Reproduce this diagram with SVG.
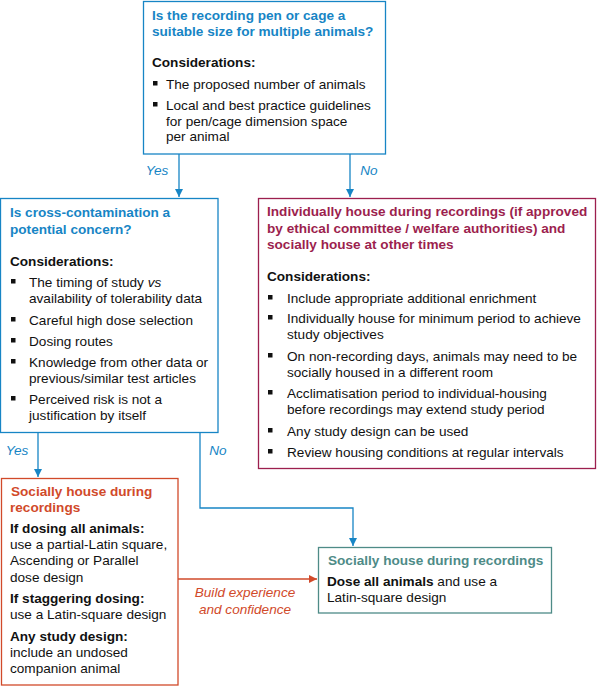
<svg xmlns="http://www.w3.org/2000/svg" width="598" height="686" viewBox="0 0 598 686">
<defs>
<style>
text{font-family:"Liberation Sans",Arial,sans-serif;font-size:13.6px;fill:#111}
.b{font-weight:bold}
.tb{font-weight:bold;fill:#1785c5}
.tc{font-weight:bold;fill:#9c1f4e}
.to{font-weight:bold;fill:#d14a2a}
.tt{font-weight:bold;fill:#4e8b87}
.lb{font-style:italic;fill:#1785c5}
.lo{font-style:italic;fill:#d14a2a}
.bx{fill:#fff;stroke-width:1.3}
.blue{stroke:#1785c5}
.cr{stroke:#9c1f4e}
.or{stroke:#d14a2a}
.te{stroke:#4e8b87}
.c{fill:none;stroke-width:1.3}
.sq{fill:#111}
</style>
<marker id="ab" viewBox="0 0 10 10" refX="10" refY="5" markerWidth="8" markerHeight="8" markerUnits="userSpaceOnUse" orient="auto"><path d="M0,0L10,5L0,10z" fill="#1785c5"/></marker>
<marker id="ao" viewBox="0 0 10 10" refX="10" refY="5" markerWidth="8" markerHeight="8" markerUnits="userSpaceOnUse" orient="auto"><path d="M0,0L10,5L0,10z" fill="#d14a2a"/></marker>
</defs>

<g id="connectors">
<path class="c blue" d="M179,154V197" marker-end="url(#ab)"/>
<path class="c blue" d="M350,154V197" marker-end="url(#ab)"/>
<path class="c blue" d="M38,433V477" marker-end="url(#ab)"/>
<path class="c blue" d="M200,433V508H353V546" marker-end="url(#ab)"/>
<path class="c or" d="M178,579H317" marker-end="url(#ao)"/>
<text class="lb" x="157" y="175" text-anchor="middle">Yes</text>
<text class="lb" x="369" y="175" text-anchor="middle">No</text>
<text class="lb" x="17" y="455" text-anchor="middle">Yes</text>
<text class="lb" x="218" y="455" text-anchor="middle">No</text>
<text class="lo" x="245" y="597" text-anchor="middle">Build experience</text>
<text class="lo" x="245" y="614" text-anchor="middle">and confidence</text>
</g>

<g id="q1">
<rect class="bx blue" x="143.5" y="1.5" width="242" height="152.5"/>
<text class="tb" x="152" y="20">Is the recording pen or cage a</text>
<text class="tb" x="152" y="36">suitable size for multiple animals?</text>
<text class="b" x="152" y="67">Considerations:</text>
<rect class="sq" x="153" y="81" width="4.5" height="4.5"/>
<text x="166" y="89">The proposed number of animals</text>
<rect class="sq" x="153" y="102" width="4.5" height="4.5"/>
<text x="166" y="110">Local and best practice guidelines</text>
<text x="166" y="126">for pen/cage dimension space</text>
<text x="166" y="141">per animal</text>
</g>

<g id="q2">
<rect class="bx blue" x="0.5" y="198.5" width="217.5" height="234"/>
<text class="tb" x="10" y="217">Is cross-contamination a</text>
<text class="tb" x="10" y="234">potential concern?</text>
<text class="b" x="10" y="266">Considerations:</text>
<rect class="sq" x="11" y="279" width="4.5" height="4.5"/>
<text x="29" y="287">The timing of study <tspan font-style="italic">vs</tspan></text>
<text x="29" y="303">availability of tolerability data</text>
<rect class="sq" x="11" y="317" width="4.5" height="4.5"/>
<text x="29" y="325">Careful high dose selection</text>
<rect class="sq" x="11" y="338" width="4.5" height="4.5"/>
<text x="29" y="346">Dosing routes</text>
<rect class="sq" x="11" y="359" width="4.5" height="4.5"/>
<text x="29" y="367">Knowledge from other data or</text>
<text x="29" y="383">previous/similar test articles</text>
<rect class="sq" x="11" y="396" width="4.5" height="4.5"/>
<text x="29" y="404">Perceived risk is not a</text>
<text x="29" y="420">justification by itself</text>
</g>

<g id="individual">
<rect class="bx cr" x="258.5" y="198.5" width="337" height="270"/>
<text class="tc" x="267" y="216">Individually house during recordings (if approved</text>
<text class="tc" x="267" y="233">by ethical committee / welfare authorities) and</text>
<text class="tc" x="267" y="249">socially house at other times</text>
<text class="b" x="267" y="281">Considerations:</text>
<rect class="sq" x="268" y="295" width="4.5" height="4.5"/>
<text x="287" y="303">Include appropriate additional enrichment</text>
<rect class="sq" x="268" y="315" width="4.5" height="4.5"/>
<text x="287" y="323">Individually house for minimum period to achieve</text>
<text x="287" y="339">study objectives</text>
<rect class="sq" x="268" y="353" width="4.5" height="4.5"/>
<text x="287" y="361">On non-recording days, animals may need to be</text>
<text x="287" y="377">socially housed in a different room</text>
<rect class="sq" x="268" y="390" width="4.5" height="4.5"/>
<text x="287" y="398">Acclimatisation period to individual-housing</text>
<text x="287" y="414">before recordings may extend study period</text>
<rect class="sq" x="268" y="428" width="4.5" height="4.5"/>
<text x="287" y="436">Any study design can be used</text>
<rect class="sq" x="268" y="449" width="4.5" height="4.5"/>
<text x="287" y="457">Review housing conditions at regular intervals</text>
</g>

<g id="social1">
<rect class="bx or" x="1.5" y="478.5" width="176.5" height="206.5"/>
<text class="to" x="11" y="496">Socially house during</text>
<text class="to" x="10" y="512">recordings</text>
<text class="b" x="10" y="533">If dosing all animals:</text>
<text x="10" y="549">use a partial-Latin square,</text>
<text x="10" y="565">Ascending or Parallel</text>
<text x="10" y="582">dose design</text>
<text class="b" x="10" y="603">If staggering dosing:</text>
<text x="10" y="619">use a Latin-square design</text>
<text class="b" x="10" y="641">Any study design:</text>
<text x="10" y="657">include an undosed</text>
<text x="10" y="673">companion animal</text>
</g>

<g id="social2">
<rect class="bx te" x="318.5" y="547.5" width="233" height="65.5"/>
<text class="tt" x="328" y="565">Socially house during recordings</text>
<text x="327" y="586"><tspan class="b">Dose all animals</tspan> and use a</text>
<text x="327" y="602">Latin-square design</text>
</g>
</svg>
